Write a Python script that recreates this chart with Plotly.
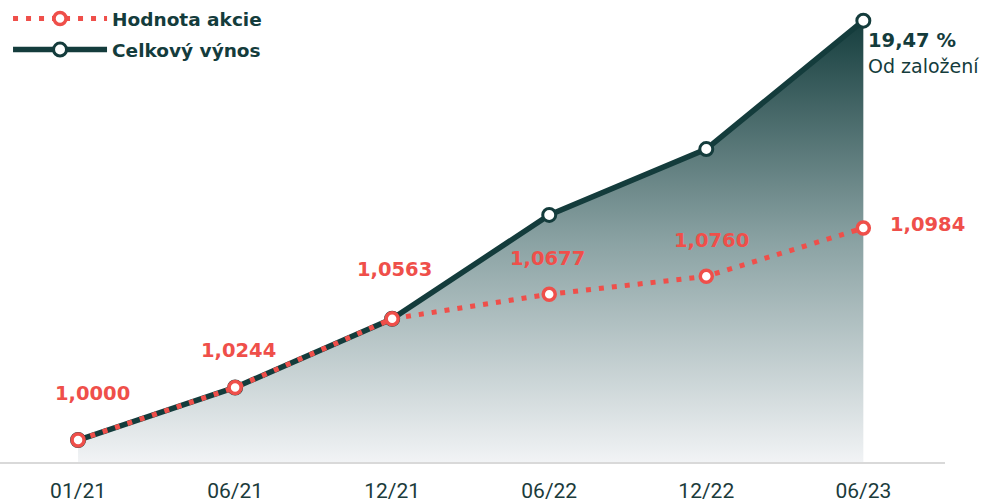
import plotly.graph_objects as go

# ---- data ----
periods = ["01/21", "06/21", "12/21", "06/22", "12/22", "06/23"]
share_value = [1.0000, 1.0244, 1.0563, 1.0677, 1.0760, 1.0984]
total_return = [1.0000, 1.0244, 1.0563, 1.1045, 1.1351, 1.1947]
share_labels = ["1,0000", "1,0244", "1,0563", "1,0677", "1,0760", "1,0984"]
total_label = "19,47 %"
total_sub = "Od založení"
names = ["Hodnota akcie", "Celkový výnos"]

RED = "#ef4f4a"
DARK = "#143c3c"
Y_MIN, Y_MAX = 0.9898, 1.2043
BOLD = "DejaVu Sans"

x = list(range(len(periods)))

dark_line = dict(color=DARK, width=5.5)
dark_marker = dict(size=13, color="white", line=dict(color=DARK, width=3))
red_line = dict(color=RED, width=5, dash="5px,8px")
red_marker = dict(size=12, color="white", line=dict(color=RED, width=3.5))

fig = go.Figure()

# baseline for fill
fig.add_trace(go.Scatter(x=x, y=[Y_MIN] * len(x), mode="lines",
                         line=dict(width=0, color="rgba(0,0,0,0)"),
                         showlegend=False, hoverinfo="skip"))
fig.add_trace(go.Scatter(
    x=x, y=total_return, name=names[1], mode="lines+markers",
    line=dark_line, marker=dark_marker,
    fill="tonexty",
    fillgradient=dict(type="vertical", start=Y_MIN, stop=total_return[-1],
                      colorscale=[[0, "#f1f3f5"], [0.5, "#8aa2a3"], [1, "#163e3e"]]),
    showlegend=False,
))
fig.add_trace(go.Scatter(
    x=x, y=share_value, name=names[0], mode="lines+markers",
    line=red_line, marker=red_marker, showlegend=False,
))
# legend-only entries
fig.add_trace(go.Scatter(x=[None], y=[None], name=names[0], mode="lines+markers",
                         line=red_line, marker=red_marker, legendgroup="a"))
fig.add_trace(go.Scatter(x=[None], y=[None], name=names[1], mode="lines+markers",
                         line=dark_line, marker=dark_marker, legendgroup="b"))

# label offsets (layout only)
xshifts = [14, 3, 2, -2, 5]
yshifts = [47, 37, 49, 36, 36]
for i, (v, t) in enumerate(zip(share_value[:-1], share_labels[:-1])):
    fig.add_annotation(x=x[i], y=v, text=t, showarrow=False,
                       xshift=xshifts[i], yshift=yshifts[i],
                       font=dict(family=BOLD, size=19.5, color=RED, weight="bold"))
fig.add_annotation(x=x[-1], y=share_value[-1], text=share_labels[-1], showarrow=False,
                   xanchor="left", xshift=25, yshift=4,
                   font=dict(family=BOLD, size=19.5, color=RED, weight="bold"))

fig.add_annotation(x=x[-1], y=total_return[-1], text=total_label, showarrow=False,
                   xanchor="left", xshift=3, yshift=-20,
                   font=dict(family=BOLD, size=19.5, color=DARK, weight="bold"))
fig.add_annotation(x=x[-1], y=total_return[-1], text=total_sub, showarrow=False,
                   xanchor="left", xshift=3, yshift=-45,
                   font=dict(family="DejaVu Sans", size=19, color=DARK))

fig.update_layout(
    width=989, height=503,
    margin=dict(l=0, r=44, t=0, b=41),
    paper_bgcolor="white", plot_bgcolor="white",
    showlegend=True,
    legend=dict(x=0.0085, y=1.0, xanchor="left", yanchor="top",
                bgcolor="rgba(0,0,0,0)", itemwidth=94, traceorder="grouped",
                font=dict(family=BOLD, size=18.5, color=DARK, weight="bold"),
                tracegroupgap=4),
    xaxis=dict(range=[-0.497, 5.52], tickmode="array", tickvals=x, ticktext=periods,
               showgrid=False, zeroline=False, showline=True, linecolor="#d9d9d9",
               linewidth=2, ticks="", ticklabelstandoff=9, automargin=False,
               tickfont=dict(family="Roboto", size=21, color="#1b3b3b")),
    yaxis=dict(range=[Y_MIN, Y_MAX], visible=False, showgrid=False, zeroline=False,
               automargin=False),
)

fig.write_html("out.html", config={"displayModeBar": False},
               post_script="document.body.style.margin='0';")
